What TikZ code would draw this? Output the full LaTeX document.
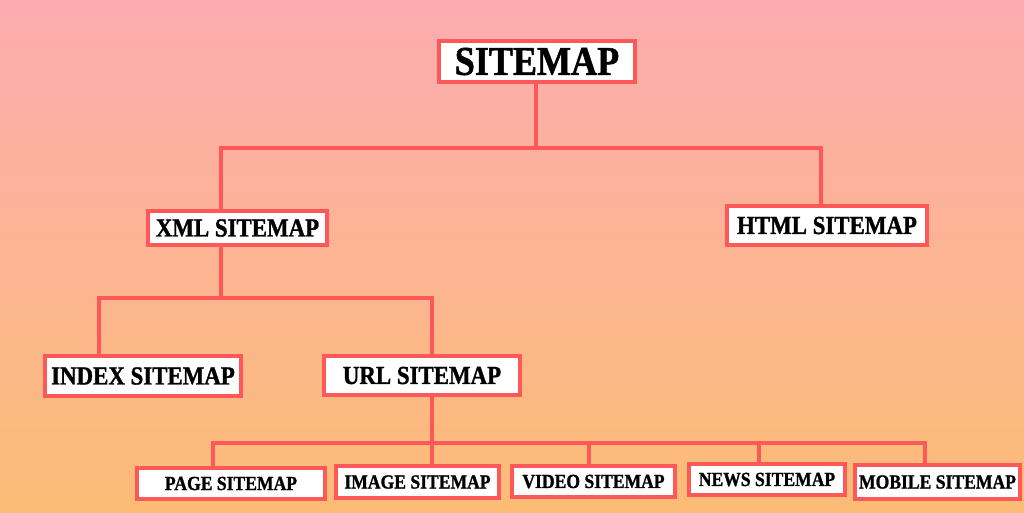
\documentclass[tikz,border=0pt]{standalone}
\usepackage{fontspec}
\newfontfamily\boxfont[FakeStretch=0.88,BoldFeatures={FakeBold=1.2}]{Liberation Serif}
\definecolor{boxred}{RGB}{255,88,88}
\definecolor{bgtop}{RGB}{252,172,176}
\definecolor{bgbot}{RGB}{252,188,118}
\tikzset{
  sbox/.style={draw=boxred, line width=4pt, fill=white, inner sep=0pt, align=center, font=\boxfont\bfseries},
  big/.style={sbox, font=\boxfont\bfseries\fontsize{41}{41}\selectfont},
  mid/.style={sbox, font=\boxfont\bfseries\fontsize{26}{26}\selectfont},
  small/.style={sbox, font=\boxfont\bfseries\fontsize{20}{20}\selectfont},
  conn/.style={draw=boxred, line width=3.6pt}
}
\begin{document}
\begin{tikzpicture}[x=1pt,y=-1pt]
\shade[top color=bgtop, bottom color=bgbot] (0,0) rectangle (1024,512);
\useasboundingbox (0,0) rectangle (1024,512);
% junction coordinates
\coordinate (xa) at (221,148);
\coordinate (xb) at (821,148);
\coordinate (xm) at (221,298);
\coordinate (ya) at (99,298);
\coordinate (yb) at (432,298);
\coordinate (p0) at (213,443);
\coordinate (u0) at (432,443);
\coordinate (v0) at (589,443);
\coordinate (n0) at (759,443);
\coordinate (m0) at (925,443);
% connectors
\draw[conn] (536,83) coordinate (rs) -- (rs |- xa);
\draw[conn] (221,210) coordinate (xt) -- (xa) -- (xb) -- (821,205) coordinate (ht);
\draw[conn] (221,246) coordinate (xs) -- (xm);
\draw[conn] (99,355) coordinate (it) -- (ya) -- (yb) -- (432,355) coordinate (ut);
\draw[conn] (432,396) coordinate (us) -- (u0);
\draw[conn] (213,466) coordinate (pt) -- (p0) -- (m0) -- (925,463) coordinate (mt);
\draw[conn] (u0) -- (432,464) coordinate (imt);
\draw[conn] (v0) -- (589,464) coordinate (vt);
\draw[conn] (n0) -- (759,462) coordinate (nt);
% nodes
\node[big, minimum width=196pt, minimum height=41pt] (root) at (537,61.5) {SITEMAP};
\node[mid, minimum width=179pt, minimum height=34pt] (xml) at (237.5,228) {XML SITEMAP};
\node[mid, minimum width=200pt, minimum height=39pt] (html) at (827,225.5) {HTML SITEMAP};
\node[mid, minimum width=196pt, minimum height=40pt] (index) at (143,376) {INDEX SITEMAP};
\node[mid, minimum width=196pt, minimum height=39pt] (url) at (422,375.5) {URL SITEMAP};
\node[small, minimum width=188pt, minimum height=31pt] (page) at (231,483.5) {PAGE SITEMAP};
\node[small, minimum width=163pt, minimum height=32pt] (image) at (417.5,482) {IMAGE SITEMAP};
\node[small, minimum width=163pt, minimum height=31pt] (video) at (593.5,481.5) {VIDEO SITEMAP};
\node[small, minimum width=156pt, minimum height=31pt] (news) at (767,479.5) {NEWS SITEMAP};
\node[small, minimum width=165pt, minimum height=34pt] (mobile) at (937.5,482) {MOBILE SITEMAP};
\end{tikzpicture}
\end{document}
